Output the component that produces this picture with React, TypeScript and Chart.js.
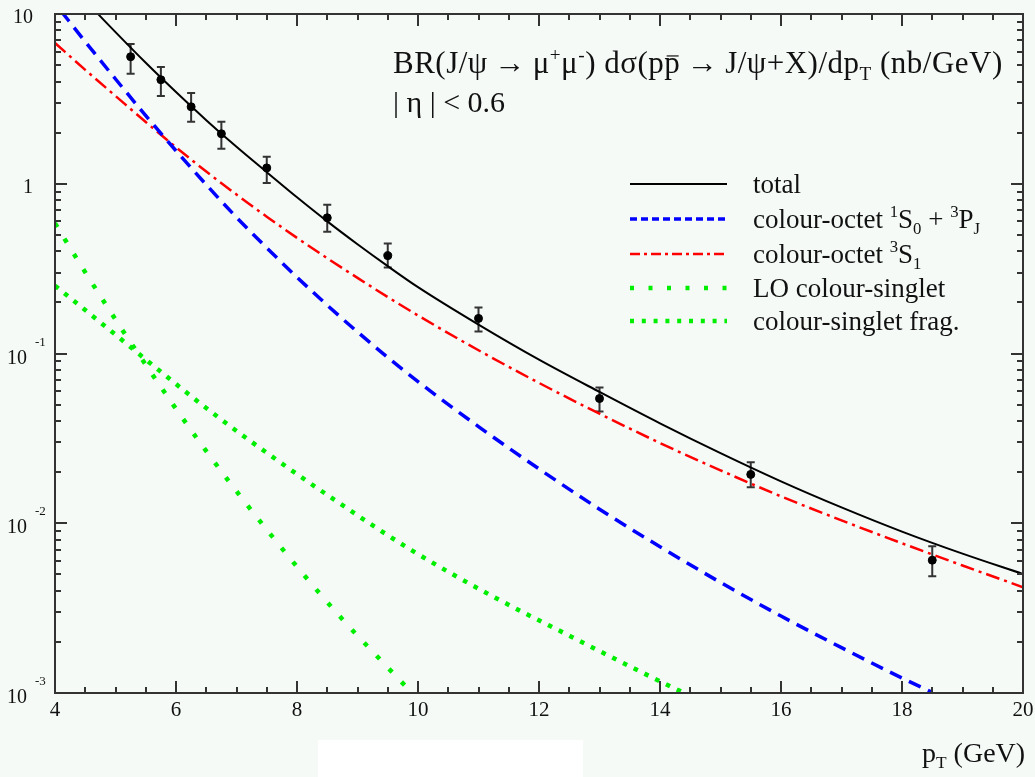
import React, { useEffect, useRef } from "react";
import { Chart, registerables } from "chart.js";

Chart.register(...registerables);

// ---------------- data ----------------
const totalPt = [4.7, 5, 5.5, 6, 6.5, 7, 7.5, 8, 8.5, 9, 9.5, 10, 11, 12, 13, 14, 15, 16, 17, 18, 19, 20];
const totalVal = [10.1, 7.82, 5.16, 3.47, 2.37, 1.65, 1.17, 0.832, 0.6, 0.44, 0.327, 0.246, 0.148, 0.092, 0.0594, 0.0388, 0.0259, 0.01766, 0.0124, 0.00893, 0.00662, 0.00502];

const octetSPPt = [4.1, 4.5, 5, 5.5, 6, 6.5, 7, 7.5, 8, 8.5, 9, 9.5, 10, 11, 12, 13, 14, 15, 16, 17, 18, 18.5];
const octetSPVal = [10.4, 6.87, 4.14, 2.52, 1.565, 0.987, 0.634, 0.419, 0.2815, 0.1925, 0.134, 0.0948, 0.0683, 0.0371, 0.0209, 0.0121, 0.00727, 0.00448, 0.00284, 0.00185, 0.001226, 0.001008];

const octet3S1Pt = [4, 4.5, 5, 5.5, 6, 6.5, 7, 7.5, 8, 8.5, 9, 9.5, 10, 11, 12, 13, 14, 15, 16, 17, 18, 19, 20];
const octet3S1Val = [6.75, 4.69, 3.29, 2.31, 1.64, 1.18, 0.864, 0.64, 0.48, 0.364, 0.279, 0.215, 0.1675, 0.1045, 0.0671, 0.0442, 0.0297, 0.0205, 0.0144, 0.0104, 0.00762, 0.00564, 0.0042];

const loSingletPt = [4, 4.48, 4.96, 5.45, 5.96, 6.47, 7.04, 7.59, 8.15, 8.75, 9.37, 9.88];
const loSingletVal = [0.585, 0.309, 0.1667, 0.0912, 0.0495, 0.0275, 0.0148, 0.00836, 0.00479, 0.00272, 0.00158, 0.00102];

const fragPt = [4, 4.9, 5.74, 6.62, 7.54, 8.62, 9.89, 11.18, 12.54, 13.88, 14.4];
const fragVal = [0.251, 0.138, 0.0785, 0.0442, 0.0254, 0.01374, 0.00695, 0.0038, 0.00214, 0.00123, 0.001];

const dataPt = [5.25, 5.75, 6.25, 6.75, 7.5, 8.5, 9.5, 11, 13, 15.5, 18.5];
const dataVal = [5.6, 4.1, 2.84, 1.97, 1.24, 0.63, 0.377, 0.161, 0.0543, 0.0194, 0.00606];
const dataLow = [4.44, 3.29, 2.32, 1.61, 1.01, 0.522, 0.321, 0.1347, 0.0456, 0.0163, 0.00488];
const dataHigh = [6.66, 4.88, 3.43, 2.32, 1.44, 0.752, 0.444, 0.1866, 0.0631, 0.0229, 0.00732];

const xTickValues = [4, 6, 8, 10, 12, 14, 16, 18, 20];
const yDecadeValues = [10, 1, 0.1, 0.01, 0.001];
const yDecadeMain = ["10", "1", "10", "10", "10"];
const yDecadeExp = ["", "", "-1", "-2", "-3"];

type Seg = { t: string; k?: "sup" | "sub" | "bar" };

const titleLine1: Seg[] = [
  { t: "BR(J/\u03C8\u2009\u2192\u2009\u03BC" },
  { t: "+", k: "sup" },
  { t: "\u03BC" },
  { t: "-", k: "sup" },
  { t: ") d\u03C3(p" },
  { t: "p", k: "bar" },
  { t: "\u2009\u2192\u2009J/\u03C8+X)/dp" },
  { t: "T", k: "sub" },
  { t: " (nb/GeV)" },
];
const titleLine2: Seg[] = [{ t: "| \u03B7 | < 0.6" }];
const xTitle: Seg[] = [{ t: "p" }, { t: "T", k: "sub" }, { t: " (GeV)" }];

const legendLabels: Seg[][] = [
  [{ t: "total" }],
  [
    { t: "colour-octet " },
    { t: "1", k: "sup" },
    { t: "S" },
    { t: "0", k: "sub" },
    { t: " + " },
    { t: "3", k: "sup" },
    { t: "P" },
    { t: "J", k: "sub" },
  ],
  [{ t: "colour-octet " }, { t: "3", k: "sup" }, { t: "S" }, { t: "1", k: "sub" }],
  [{ t: "LO colour-singlet" }],
  [{ t: "colour-singlet frag." }],
];

const SERIF = '"Liberation Serif", "DejaVu Serif", serif';
const GREEN = "#00ee00";

const seriesStyles = [
  { color: "#000000", width: 2, dash: [] as number[], legendDash: [] as number[] },
  { color: "#0000ff", width: 3.5, dash: [13, 8], legendDash: [7, 4] },
  { color: "#ff0000", width: 2.5, dash: [14, 5, 3, 5], legendDash: [10, 4, 3, 4] },
  { color: GREEN, width: 4.5, dash: [4.5, 13.5], legendDash: [4, 14.5] },
  { color: GREEN, width: 4.5, dash: [4.5, 7.5], legendDash: [4, 7.8] },
];

function drawRich(ctx: CanvasRenderingContext2D, segs: Seg[], x: number, y: number, size: number, spacing = 0) {
  let cx = x;
  const anyCtx = ctx as any;
  const hadSpacing = "letterSpacing" in anyCtx;
  if (hadSpacing) anyCtx.letterSpacing = `${spacing}px`;
  ctx.textBaseline = "alphabetic";
  ctx.textAlign = "left";
  for (const s of segs) {
    const small = s.k === "sup" || s.k === "sub";
    const sz = small ? size * 0.62 : size;
    ctx.font = `${sz}px ${SERIF}`;
    const dy = s.k === "sup" ? -size * 0.4 : s.k === "sub" ? size * 0.22 : 0;
    ctx.fillText(s.t, cx, y + dy);
    const w = ctx.measureText(s.t).width;
    if (s.k === "bar") {
      ctx.save();
      ctx.lineWidth = 1.2;
      ctx.strokeStyle = ctx.fillStyle as string;
      ctx.beginPath();
      ctx.moveTo(cx + w * 0.15, y - size * 0.55);
      ctx.lineTo(cx + w * 0.9, y - size * 0.55);
      ctx.stroke();
      ctx.restore();
    }
    cx += w;
  }
  if (hadSpacing) anyCtx.letterSpacing = "0px";
  return cx;
}

const framePlugin = {
  id: "framePlugin",
  beforeDatasetDraw(chart: any, args: any) {
    if (args.index !== 5) return;
    const ctx: CanvasRenderingContext2D = chart.ctx;
    const xs = chart.scales.x;
    const ys = chart.scales.y;
    ctx.save();
    ctx.strokeStyle = "#333333";
    ctx.lineWidth = 2;
    for (let i = 0; i < dataPt.length; i++) {
      const px = xs.getPixelForValue(dataPt[i]);
      const yl = ys.getPixelForValue(dataLow[i]);
      const yh = ys.getPixelForValue(dataHigh[i]);
      ctx.beginPath();
      ctx.moveTo(px, yl);
      ctx.lineTo(px, yh);
      ctx.moveTo(px - 4, yl);
      ctx.lineTo(px + 4, yl);
      ctx.moveTo(px - 4, yh);
      ctx.lineTo(px + 4, yh);
      ctx.stroke();
    }
    ctx.restore();
  },
  afterDraw(chart: any) {
    const ctx: CanvasRenderingContext2D = chart.ctx;
    const a = chart.chartArea;
    const xs = chart.scales.x;
    const ys = chart.scales.y;
    ctx.save();
    ctx.strokeStyle = "#333333";
    ctx.fillStyle = "#111111";
    ctx.lineWidth = 2;
    ctx.strokeRect(a.left, a.top, a.right - a.left, a.bottom - a.top);

    // x ticks
    ctx.beginPath();
    for (let v = 4; v <= 20.001; v += 0.5) {
      const px = Math.round(xs.getPixelForValue(v));
      const major = Math.abs(v % 2) < 1e-6;
      const len = major ? 12 : 6;
      ctx.moveTo(px, a.bottom);
      ctx.lineTo(px, a.bottom - len);
      ctx.moveTo(px, a.top);
      ctx.lineTo(px, a.top + len);
    }
    // y ticks
    for (let d = -3; d <= 1; d++) {
      for (let k = 1; k <= 9; k++) {
        const v = k * Math.pow(10, d);
        if (v < 0.001 - 1e-12 || v > 10 + 1e-9) continue;
        const py = Math.round(ys.getPixelForValue(v));
        const len = k === 1 ? 12 : 6;
        ctx.moveTo(a.left, py);
        ctx.lineTo(a.left + len, py);
        ctx.moveTo(a.right, py);
        ctx.lineTo(a.right - len, py);
      }
    }
    ctx.stroke();

    // x tick labels
    ctx.font = `21px ${SERIF}`;
    ctx.textAlign = "center";
    ctx.textBaseline = "alphabetic";
    for (const v of xTickValues) {
      ctx.fillText(String(v), xs.getPixelForValue(v), a.bottom + 23);
    }
    // y tick labels
    for (let i = 0; i < yDecadeValues.length; i++) {
      const py = ys.getPixelForValue(yDecadeValues[i]);
      if (yDecadeExp[i]) {
        ctx.font = `20px ${SERIF}`;
        ctx.textAlign = "left";
        ctx.fillText(yDecadeMain[i], 7, py + 10);
        ctx.font = `13px ${SERIF}`;
        ctx.fillText(yDecadeExp[i], 35, py - 8);
      } else {
        ctx.font = `20px ${SERIF}`;
        ctx.textAlign = "right";
        ctx.fillText(yDecadeMain[i], 33, py + 9);
      }
    }

    // titles
    ctx.fillStyle = "#111111";
    drawRich(ctx, titleLine1, 393, 73, 31, 0.5);
    drawRich(ctx, titleLine2, 393, 112, 30);
    drawRich(ctx, xTitle, 922, 762, 28);

    // legend
    const rowY = [184, 219, 254, 288, 321];
    for (let i = 0; i < legendLabels.length; i++) {
      const st = seriesStyles[i];
      ctx.save();
      ctx.strokeStyle = st.color;
      ctx.lineWidth = st.width;
      ctx.lineCap = "butt";
      ctx.setLineDash(st.legendDash);
      ctx.beginPath();
      ctx.moveTo(630, rowY[i]);
      ctx.lineTo(727, rowY[i]);
      ctx.stroke();
      ctx.restore();
      ctx.fillStyle = "#111111";
      drawRich(ctx, legendLabels[i], 753, rowY[i] + 9, 27);
    }
    ctx.restore();
  },
};

function toXY(xs: number[], ys: number[]) {
  return xs.map((x, i) => ({ x, y: ys[i] }));
}

export default function App() {
  const ref = useRef<HTMLCanvasElement | null>(null);
  useEffect(() => {
    if (!ref.current) return;
    const curves = [
      toXY(totalPt, totalVal),
      toXY(octetSPPt, octetSPVal),
      toXY(octet3S1Pt, octet3S1Val),
      toXY(loSingletPt, loSingletVal),
      toXY(fragPt, fragVal),
    ];
    const names = ["total", "colour-octet 1S0 + 3PJ", "colour-octet 3S1", "LO colour-singlet", "colour-singlet frag."];
    const datasets: any[] = curves.map((d, i) => ({
      label: names[i],
      data: d,
      borderColor: seriesStyles[i].color,
      borderWidth: seriesStyles[i].width,
      borderDash: seriesStyles[i].dash,
      borderCapStyle: "butt",
      pointRadius: 0,
      fill: false,
      cubicInterpolationMode: "monotone",
    }));
    datasets.push({
      label: "CDF data",
      data: toXY(dataPt, dataVal),
      showLine: false,
      pointRadius: 4,
      pointBackgroundColor: "#000000",
      pointBorderColor: "#000000",
      borderColor: "#000000",
    });
    const chart = new Chart(ref.current, {
      type: "line",
      data: { datasets },
      options: {
        responsive: false,
        animation: false,
        layout: { padding: { left: 55, top: 14, right: 12, bottom: 84 } },
        plugins: { legend: { display: false }, tooltip: { enabled: false } },
        scales: {
          x: { type: "linear", min: 4, max: 20, display: false },
          y: { type: "logarithmic", min: 0.001, max: 10, display: false },
        },
      },
      plugins: [framePlugin],
    });
    return () => chart.destroy();
  }, []);

  return (
    <div style={{ position: "fixed", left: 0, top: 0, width: 1035, height: 777, background: "#f5faf7" }}>
      <canvas ref={ref} width={1035} height={777} style={{ position: "absolute", left: 0, top: 0, width: 1035, height: 777 }} />
      <div style={{ position: "absolute", left: 318, top: 740, width: 265, height: 37, background: "#ffffff" }} />
    </div>
  );
}
